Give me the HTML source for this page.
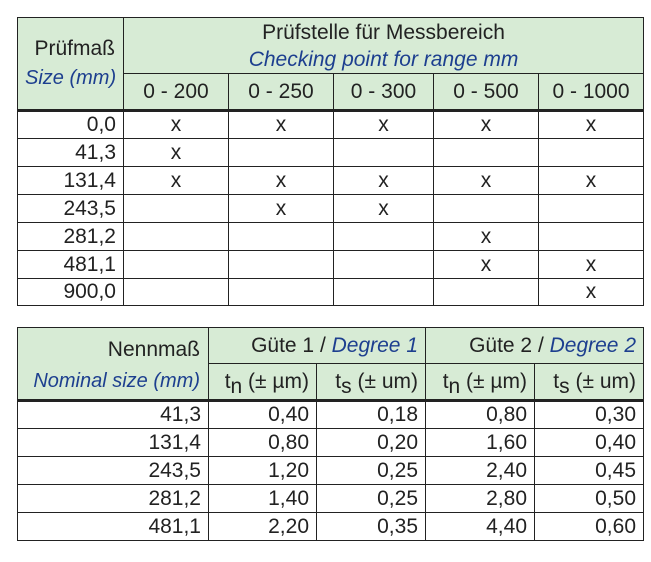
<!DOCTYPE html>
<html><head><meta charset="utf-8"><style>
body{margin:0;width:651px;height:562px;background:#fff;position:relative;font-family:"Liberation Sans",sans-serif;color:#222;}
table{position:absolute;left:17px;border-collapse:collapse;table-layout:fixed;font-size:21px;}
td{border:1.5px solid #222;padding:0 7px;white-space:nowrap;overflow:visible;}
.h{background:#d7ebd5;}
.b{color:#1d3f8f;font-style:italic;}
.s{font-size:20px;}
.c{text-align:center;}
.r{text-align:right;}
.tk td{border-bottom:3px solid #222;}
sub{font-size:21px;vertical-align:-5px;line-height:0;}
</style></head><body>
<table style="top:17px;width:626px;">
<colgroup><col style="width:106px"><col style="width:105px"><col style="width:105px"><col style="width:100px"><col style="width:105px"><col style="width:105px"></colgroup>
<tr style="height:56px"><td class="h r" rowspan="2" style="line-height:29px;padding-right:8px;border-bottom:3px solid #222">Prüfmaß<br><span class="b s">Size (mm)</span></td><td class="h c" colspan="5" style="line-height:27px">Prüfstelle für Messbereich<br><span class="b">Checking point for range mm</span></td></tr>
<tr class="tk" style="height:37px"><td class="h c">0 - 200</td><td class="h c">0 - 250</td><td class="h c">0 - 300</td><td class="h c">0 - 500</td><td class="h c">0 - 1000</td></tr>
<tr style="height:28px"><td class="r">0,0</td><td class="c">x</td><td class="c">x</td><td class="c">x</td><td class="c">x</td><td class="c">x</td></tr>
<tr style="height:28px"><td class="r">41,3</td><td class="c">x</td><td></td><td></td><td></td><td></td></tr>
<tr style="height:28px"><td class="r">131,4</td><td class="c">x</td><td class="c">x</td><td class="c">x</td><td class="c">x</td><td class="c">x</td></tr>
<tr style="height:28px"><td class="r">243,5</td><td></td><td class="c">x</td><td class="c">x</td><td></td><td></td></tr>
<tr style="height:28px"><td class="r">281,2</td><td></td><td></td><td></td><td class="c">x</td><td></td></tr>
<tr style="height:28px"><td class="r">481,1</td><td></td><td></td><td></td><td class="c">x</td><td class="c">x</td></tr>
<tr style="height:27px"><td class="r">900,0</td><td></td><td></td><td></td><td></td><td class="c">x</td></tr>
</table>
<table style="top:327px;width:626px;">
<colgroup><col style="width:191px"><col style="width:108px"><col style="width:109px"><col style="width:109px"><col style="width:109px"></colgroup>
<tr style="height:36px"><td class="h r" rowspan="2" style="line-height:31px;padding-top:3px;padding-right:8px;border-bottom:3px solid #222">Nennmaß<br><span class="b s">Nominal size (mm)</span></td><td class="h r" colspan="2">Güte 1 / <span class="b">Degree 1</span></td><td class="h r" colspan="2">Güte 2 / <span class="b">Degree 2</span></td></tr>
<tr class="tk" style="height:37px"><td class="h r">t<sub>n</sub> (± µm)</td><td class="h r">t<sub>s</sub> (± um)</td><td class="h r">t<sub>n</sub> (± µm)</td><td class="h r">t<sub>s</sub> (± um)</td></tr>
<tr style="height:28px"><td class="r">41,3</td><td class="r">0,40</td><td class="r">0,18</td><td class="r">0,80</td><td class="r">0,30</td></tr>
<tr style="height:28px"><td class="r">131,4</td><td class="r">0,80</td><td class="r">0,20</td><td class="r">1,60</td><td class="r">0,40</td></tr>
<tr style="height:28px"><td class="r">243,5</td><td class="r">1,20</td><td class="r">0,25</td><td class="r">2,40</td><td class="r">0,45</td></tr>
<tr style="height:28px"><td class="r">281,2</td><td class="r">1,40</td><td class="r">0,25</td><td class="r">2,80</td><td class="r">0,50</td></tr>
<tr style="height:28px"><td class="r">481,1</td><td class="r">2,20</td><td class="r">0,35</td><td class="r">4,40</td><td class="r">0,60</td></tr>
</table>
</body></html>
